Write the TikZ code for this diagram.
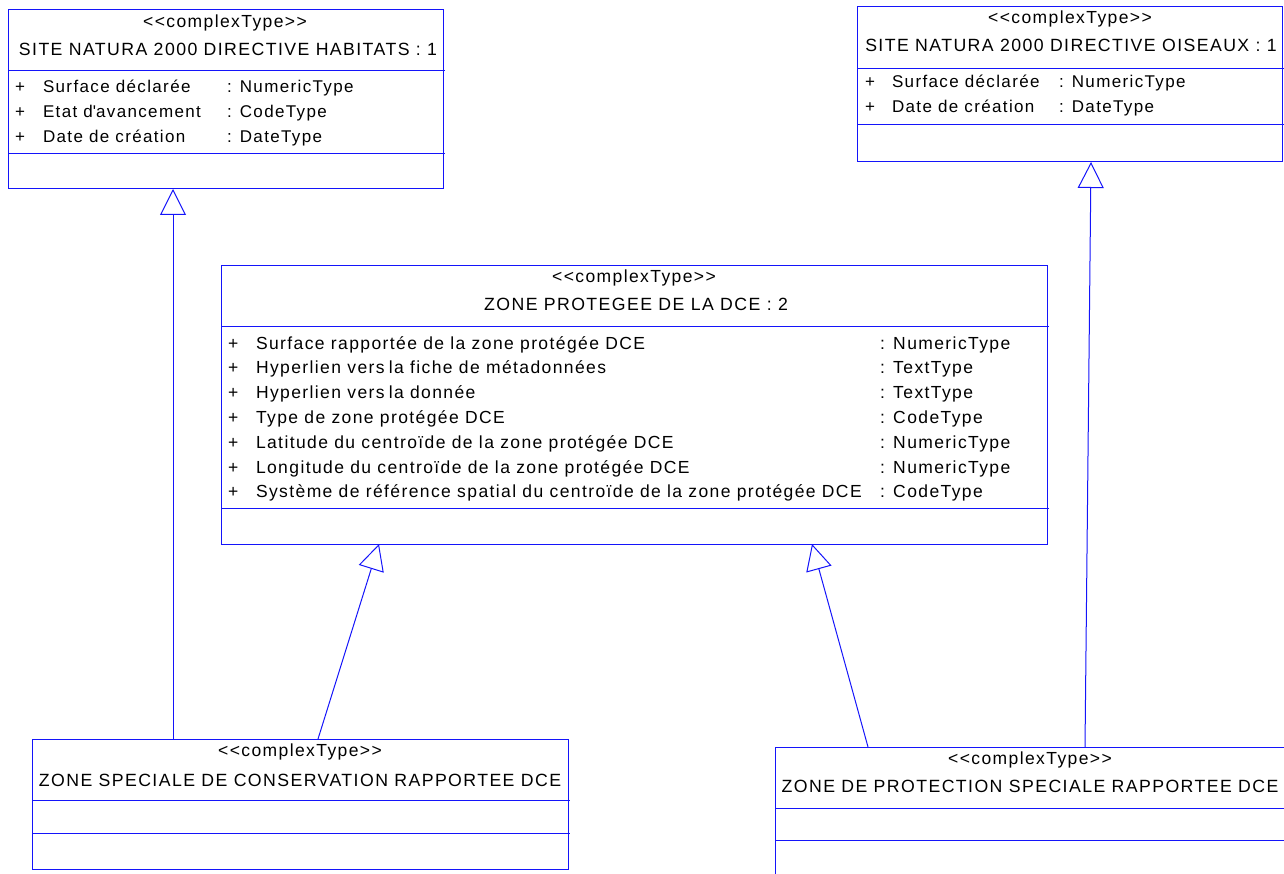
\documentclass[tikz,border=0pt]{standalone}
\usepackage{fontspec}
\setmainfont{Liberation Sans}[LetterSpace=8]
\usetikzlibrary{arrows.meta}
\definecolor{umlblue}{RGB}{20,20,250}
\tikzset{
  cls/.style={draw=umlblue, line width=1pt, inner sep=0pt, outer sep=0pt, anchor=north west},
  sepline/.style={draw=umlblue, line width=1pt},
  txt/.style={inner sep=0pt, outer sep=0pt, font=\fontsize{17}{20}\selectfont, text=black},
  sttxt/.style={txt, anchor=base, font=\fontsize{17.5}{20}\selectfont},
  ttxt/.style={txt, anchor=base, font=\fontsize{17.7}{20}\selectfont},
  ltxt/.style={txt, anchor=base west},
  mtxt/.style={txt, anchor=base west, font=\fontsize{17.5}{20}\selectfont},
  gen/.style={draw=umlblue, line width=1pt, -{Triangle[open, length=26pt, width=26pt, line width=1pt]}}
}
\begin{document}
\begin{tikzpicture}[x=1pt,y=-1pt]
\useasboundingbox (0,0) rectangle (1284,874);

% ---------- Box 1: SITE NATURA 2000 DIRECTIVE HABITATS
\node[cls, minimum width=435pt, minimum height=179pt] (hab) at (8,10) {};
\draw[sepline] (8,71) -- (445,71);
\draw[sepline] (8,154) -- (445,154);
\node[sttxt] (hab-st) at (225,28) {<{}<complexType>{}>};
\node[ttxt] (hab-t) at (228,56) {SITE NATURA 2000 DIRECTIVE HABITATS : 1};
\node[ltxt] (hab-p1) at (15,93) {+};
\node[ltxt] (hab-a1) at (43,93) {Surface déclarée};
\node[ltxt] (hab-y1) at (227,93) {: NumericType};
\node[ltxt] (hab-p2) at (15,118) {+};
\node[ltxt] (hab-a2) at (43,118) {Etat d\textquotesingle avancement};
\node[ltxt] (hab-y2) at (227,118) {: CodeType};
\node[ltxt] (hab-p3) at (15,143) {+};
\node[ltxt] (hab-a3) at (43,143) {Date de création};
\node[ltxt] (hab-y3) at (227,143) {: DateType};

% ---------- Box 2: SITE NATURA 2000 DIRECTIVE OISEAUX
\node[cls, minimum width=425pt, minimum height=155pt] (ois) at (857,7) {};
\draw[sepline] (857,69) -- (1284,69);
\draw[sepline] (857,125) -- (1284,125);
\node[sttxt] (ois-st) at (1070,24) {<{}<complexType>{}>};
\node[ttxt] (ois-t) at (1071,52) {SITE NATURA 2000 DIRECTIVE OISEAUX : 1};
\node[ltxt] (ois-p1) at (865,88) {+};
\node[ltxt] (ois-a1) at (892,88) {Surface déclarée};
\node[ltxt] (ois-y1) at (1059,88) {: NumericType};
\node[ltxt] (ois-p2) at (865,113) {+};
\node[ltxt] (ois-a2) at (892,113) {Date de création};
\node[ltxt] (ois-y2) at (1059,113) {: DateType};

% ---------- Box 3: ZONE PROTEGEE DE LA DCE
\node[cls, minimum width=826pt, minimum height=278pt] (zp) at (221,266) {};
\draw[sepline] (221,327) -- (1049,327);
\draw[sepline] (221,508) -- (1049,508);
\node[sttxt] (zp-st) at (634,283) {<{}<complexType>{}>};
\node[ttxt] (zp-t) at (636,311) {ZONE PROTEGEE DE LA DCE : 2};
\foreach \i/\yy/\name/\typ in {
  1/349/{Surface rapportée de la zone protégée DCE}/{: NumericType},
  2/373/{Hyperlien vers\hspace{0.24em}la fiche de métadonnées}/{: TextType},
  3/398/{Hyperlien vers\hspace{0.24em}la donnée}/{: TextType},
  4/423/{Type de zone protégée DCE}/{: CodeType},
  5/448/{Latitude du centroïde de la zone protégée DCE}/{: NumericType},
  6/473/{Longitude du centroïde de la zone protégée DCE}/{: NumericType},
  7/497/{Système de référence spatial du centroïde de la zone protégée DCE}/{: CodeType}}{
  \node[mtxt] (zp-p\i) at (228,\yy) {+};
  \node[mtxt] (zp-a\i) at (256,\yy) {\name};
  \node[mtxt] (zp-y\i) at (880,\yy) {\typ};
}

% ---------- Box 4: ZONE SPECIALE DE CONSERVATION RAPPORTEE DCE
\node[cls, minimum width=536pt, minimum height=130pt] (zsc) at (32,739) {};
\draw[sepline] (32,800) -- (570,800);
\draw[sepline] (32,833) -- (570,833);
\node[sttxt] (zsc-st) at (300,756) {<{}<complexType>{}>};
\node[ttxt] (zsc-t) at (300,786) {ZONE SPECIALE DE CONSERVATION RAPPORTEE DCE};

% ---------- Box 5: ZONE DE PROTECTION SPECIALE RAPPORTEE DCE
\node[cls, minimum width=511pt, minimum height=140pt] (zps) at (775,747) {};
\draw[sepline] (775,808) -- (1290,808);
\draw[sepline] (775,840) -- (1290,840);
\node[sttxt] (zps-st) at (1030,764) {<{}<complexType>{}>};
\node[ttxt] (zps-t) at (1030,792) {ZONE DE PROTECTION SPECIALE RAPPORTEE DCE};

% ---------- Connector end points
\coordinate (c1s) at (173,739);
\coordinate (c1e) at (173,189);
\coordinate (c2s) at (1085,747);
\coordinate (c2e) at (1091,162);
\coordinate (c3s) at (318,739);
\coordinate (c3e) at (379,544);
\coordinate (c4s) at (868,747);
\coordinate (c4e) at (812,544);

\draw[gen] (c1s) -- (c1e);
\draw[gen] (c2s) -- (c2e);
\draw[gen] (c3s) -- (c3e);
\draw[gen] (c4s) -- (c4e);
\end{tikzpicture}
\end{document}
